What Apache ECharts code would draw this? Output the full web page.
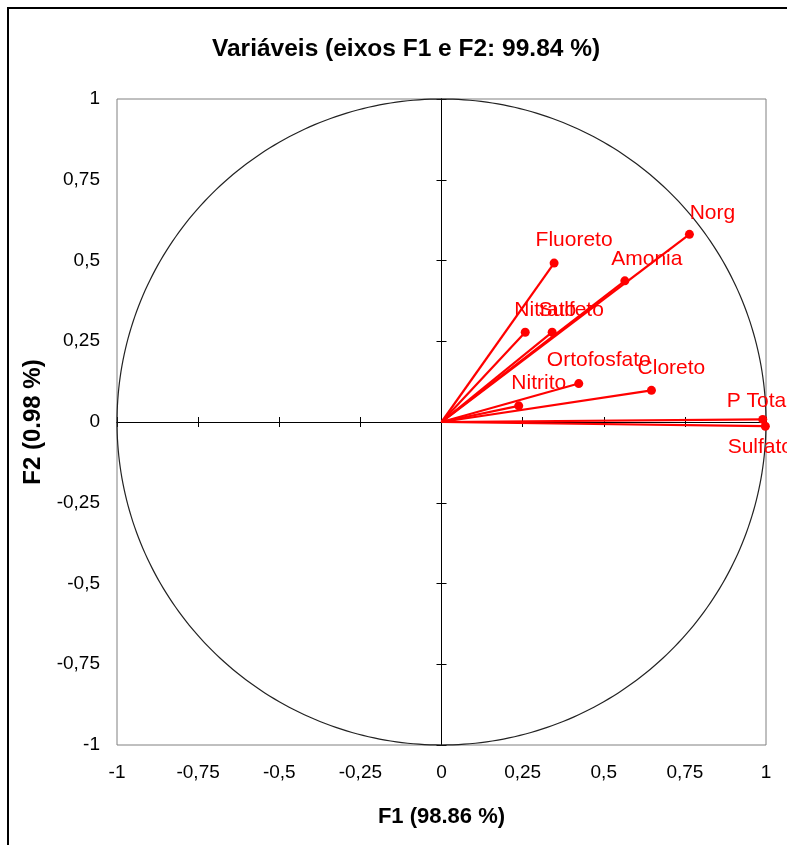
<!DOCTYPE html>
<html><head><meta charset="utf-8">
<script src="https://cdn.jsdelivr.net/npm/echarts@6/dist/echarts.min.js"></script>
<style>html,body{margin:0;padding:0;background:#fff}#c{width:787px;height:845px}</style>
</head><body><div id="c"></div>
<script>
// ---- data ----
const variables = ['Norg','Fluoreto','Amonia','Nitrato','Sulfeto','Ortofosfato','Cloreto','Nitrito','P Total','Sulfato'];
const f1 = [0.764, 0.347, 0.565, 0.258, 0.341, 0.423, 0.647, 0.238, 0.990, 0.998];
const f2 = [0.581, 0.492, 0.437, 0.278, 0.278, 0.119, 0.098, 0.050, 0.008, -0.013];
const tickLabels = ['-1','-0,75','-0,5','-0,25','0','0,25','0,5','0,75','1'];
const titleText = 'Variáveis (eixos F1 e F2: 99.84 %)';
const xName = 'F1 (98.86 %)';
const yName = 'F2 (0.98 %)';

// ---- styling (label placement) ----
const labelOffsets = {
  'Norg':[23,-21],'Fluoreto':[20,-23],'Amonia':[22,-22],'Nitrato':[20,-22],'Sulfeto':[19,-22],
  'Ortofosfato':[20,-23],'Cloreto':[20,-22],'Nitrito':[20,-23],'P Total':[-4,-18],'Sulfato':[-5,21]
};
const FONT = 'Liberation Sans, Arial, sans-serif';
const RED = '#ff0000';

const fmt = v => tickLabels[Math.round((v + 1) / 0.25)];

const pointData = variables.map((n, i) => ({ name: n, value: [f1[i], f2[i]] }));
const vecData = variables.map((n, i) => ({ coords: [[0, 0], [f1[i], f2[i]]] }));

function mainAxis(pos, name) {
  const isX = pos === 'bottom';
  return {
    type: 'value', min: -1, max: 1, interval: 0.25, position: pos,
    axisLine: { show: false, onZero: false },
    axisTick: { show: false }, splitLine: { show: false },
    axisLabel: { formatter: fmt, fontSize: 19, color: '#000', fontFamily: FONT, margin: isX ? 18 : 17 },
    name: name, nameLocation: 'middle', nameGap: isX ? 61 : 72,
    nameRotate: isX ? 0 : 90,
    nameTextStyle: { fontSize: isX ? 22 : 24, fontWeight: 'bold', color: '#000', fontFamily: FONT }
  };
}
function crossAxis(pos, inside) {
  return {
    type: 'value', min: -1, max: 1, interval: 0.25, position: pos,
    axisLine: { show: true, onZero: true, onZeroAxisIndex: 0, lineStyle: { color: '#000', width: 1 } },
    axisTick: { show: true, inside: inside, length: 5, lineStyle: { color: '#000', width: 1 } },
    axisLabel: { show: false }, splitLine: { show: false }
  };
}

const chart = echarts.init(document.getElementById('c'), null, { renderer: 'canvas' });
chart.setOption({
  backgroundColor: '#fff',
  animation: false,
  title: {
    text: titleText, left: 207, top: 32, padding: 5,
    textStyle: { fontSize: 24.5, fontWeight: 'bold', color: '#000', fontFamily: FONT }
  },
  graphic: [{
    type: 'rect', z: -10, silent: true,
    shape: { x: 8, y: 8, width: 820, height: 880 },
    style: { fill: 'none', stroke: '#000', lineWidth: 2 }
  }],
  grid: { left: 117, top: 99, width: 649, height: 646, show: true, borderColor: '#808080', borderWidth: 1, backgroundColor: '#fff' },
  xAxis: [mainAxis('bottom', xName), crossAxis('bottom', false), crossAxis('bottom', true)],
  yAxis: [mainAxis('left', yName), crossAxis('left', false), crossAxis('left', true)],
  series: [
    {
      type: 'custom', name: 'circle', silent: true, z: 1,
      xAxisIndex: 0, yAxisIndex: 0,
      data: [[0, 0]],
      renderItem: function (params, api) {
        const c = api.coord([0, 0]);
        const rx = api.coord([1, 0])[0] - c[0];
        const ry = c[1] - api.coord([0, 1])[1];
        const pts = [];
        for (let a = 0; a <= 360; a += 1) {
          const t = a * Math.PI / 180;
          pts.push([c[0] + rx * Math.cos(t), c[1] - ry * Math.sin(t)]);
        }
        return { type: 'polyline', shape: { points: pts }, style: { stroke: '#222', lineWidth: 1.2, fill: 'none' } };
      }
    },
    {
      type: 'lines', coordinateSystem: 'cartesian2d', xAxisIndex: 0, yAxisIndex: 0, z: 3,
      lineStyle: { color: RED, width: 2.2, opacity: 1 },
      data: vecData
    },
    {
      type: 'scatter', xAxisIndex: 0, yAxisIndex: 0, z: 4,
      symbol: 'circle', symbolSize: 9,
      itemStyle: { color: RED, opacity: 1 },
      label: {
        show: true, position: 'inside', formatter: '{b}',
        color: RED, fontSize: 21, fontFamily: FONT, opacity: 1
      },
      labelLayout: function (p) {
        const o = labelOffsets[variables[p.dataIndex]];
        return { dx: o[0], dy: o[1], hideOverlap: false };
      },
      data: pointData
    }
  ]
});
</script>
</body></html>
